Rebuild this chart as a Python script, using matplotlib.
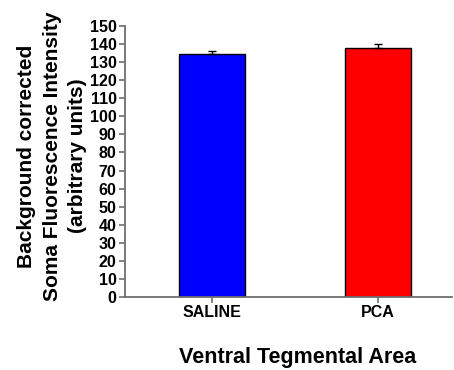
import matplotlib.pyplot as plt

plt.rcParams['font.family'] = ['Liberation Sans', 'DejaVu Sans']
plt.rcParams['font.weight'] = 'bold'

groups = ["SALINE", "PCA"]
means = [134.5, 138.0]
errors = [1.5, 1.8]
colors = ["#0000ff", "#ff0000"]
y_ticks = list(range(0, 151, 10))

fig = plt.figure(figsize=(4.54, 3.70), dpi=100)
ax = fig.add_axes([0.275, 0.197, 0.721, 0.733])

x = list(range(len(groups)))
ax.bar(x, means, width=0.4, color=colors, edgecolor="black", linewidth=1.0)
ax.errorbar(x, means, yerr=[[0, 0], errors], fmt="none", ecolor="black",
            elinewidth=1.0, capsize=3, capthick=1.0)

ax.set_xlim(-0.524, 1.446)
ax.set_ylim(0, 150)
ax.set_yticks(y_ticks)
ax.set_xticks(x)
ax.set_xticklabels(groups, fontsize=11.5, fontweight="bold")
for lab in ax.get_yticklabels():
    lab.set_fontsize(11.5)
    lab.set_fontweight("bold")

for side in ["top", "right"]:
    ax.spines[side].set_visible(False)
for side in ["left", "bottom"]:
    ax.spines[side].set_color("#6e6e6e")
    ax.spines[side].set_linewidth(1.3)
ax.tick_params(axis="both", colors="#6e6e6e", labelcolor="black", length=4, width=1.2, pad=2)

# y label placed by hand so the three lines sit like the original
fig.text(0.115, 0.578, "Background corrected\nSoma Fluorescence Intensity\n(arbitrary units)",
         rotation=90, ha="center", va="center", multialignment="center",
         fontsize=15, fontweight="bold", linespacing=1.45)
fig.text(0.655, 0.035, "Ventral Tegmental Area", ha="center", va="center",
         fontsize=15.5, fontweight="bold")

fig.savefig("out.png", dpi=100)
